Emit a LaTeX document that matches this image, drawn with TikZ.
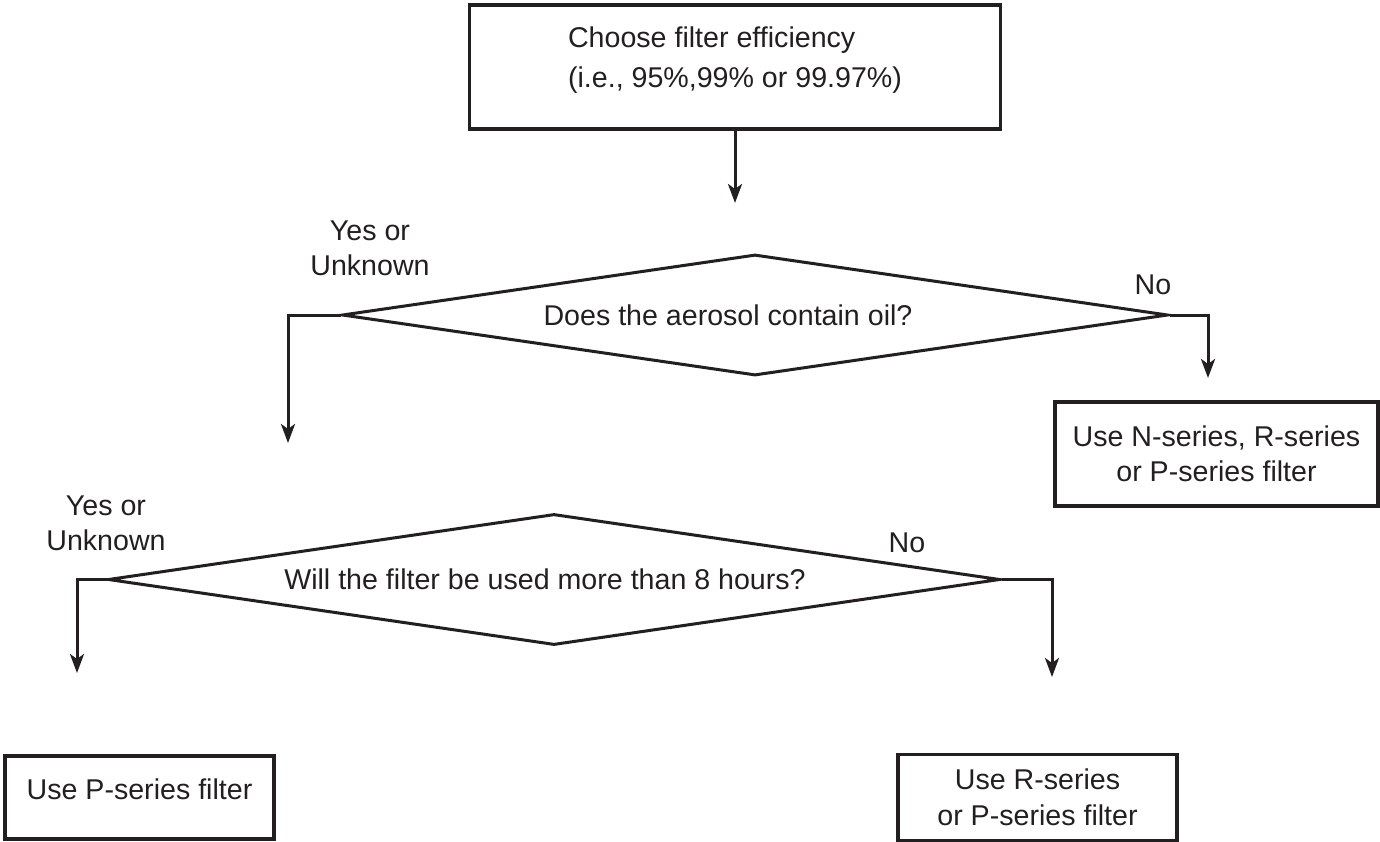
\documentclass[tikz,border=0pt]{standalone}
\usepackage{fontspec}
\setmainfont{Liberation Sans}
\usetikzlibrary{shapes.geometric,arrows.meta}
\definecolor{ink}{HTML}{231F20}

\begin{document}
\begin{tikzpicture}[x=0.5pt,y=-0.5pt,color=ink,
    box/.style={rectangle,draw,line width=1.6pt,inner sep=0pt,align=center},
    decision/.style={diamond,draw,line width=1.5pt,inner sep=0pt},
    flow/.style={-{Stealth[length=9.5pt,width=7pt,inset=2.5pt]},line width=1.5pt},
    every node/.style={font=\fontsize{14.3}{17.5}\selectfont}]
    \useasboundingbox (0,0) rectangle (1380,841);
    \node[box,minimum width=265.5pt,align=left,text height=41pt,text depth=21pt,font=\fontsize{14.3}{20}\selectfont] (choose) at (735,67) {Choose filter efficiency\\(i.e., 95\%,99\% or 99.97\%)};
    \node[decision,aspect=6.83,minimum width=413pt,minimum height=60.5pt] (oil) at (755,315) {Does the aerosol contain oil?\hspace*{27pt}};
    \node[decision,aspect=6.8,minimum width=446pt,minimum height=65.5pt] (hours) at (554,579.5) {Will the filter be used more than 8 hours?\hspace*{9pt}};
    \node[box,minimum width=161.5pt,minimum height=52pt] (nrp) at (1216.5,454) {Use N-series, R-series\\or P-series filter};
    \node[box,minimum width=134.5pt,minimum height=41.5pt,text height=10pt,text depth=8pt] (p) at (139.5,797.5) {Use P-series filter};
    \node[box,minimum width=139.5pt,minimum height=43pt,font=\fontsize{14.3}{18}\selectfont] (rp) at (1037.5,797.5) {Use R-series\\or P-series filter};

    \node[align=center] (yes1) at (370,248) {Yes or\\Unknown};
    \node (no1) at (1153,285) {No};
    \node[align=center] (yes2) at (106,523) {Yes or\\Unknown};
    \node (no2) at (907,543) {No};

    \coordinate (oilin) at (735,203);
    \coordinate (oilyes) at (288,443);
    \coordinate (oilno) at (1208,378);
    \coordinate (hoursyes) at (77,673);
    \coordinate (hoursno) at (1052,677);

    \draw[flow] (choose.south) -- (oilin);
    \draw[flow] (oil.west) -| (oilyes);
    \draw[flow] (oil.east) -| (oilno);
    \draw[flow] (hours.west) -| (hoursyes);
    \draw[flow] (hours.east) -| (hoursno);
\end{tikzpicture}
\end{document}
